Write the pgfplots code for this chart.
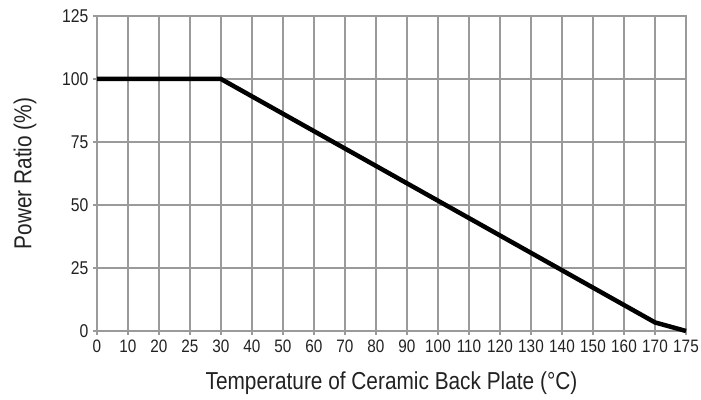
\documentclass[border=0pt]{standalone}
\usepackage{fontspec}
\setmainfont{Liberation Sans}[FakeStretch=0.85]
\usepackage{pgfplots}
\pgfplotsset{compat=1.18}
\definecolor{gridgray}{HTML}{9A9A9A}
\definecolor{txt}{HTML}{222222}
\begin{document}
\begin{tikzpicture}
\useasboundingbox (-97bp,-69bp) rectangle (604bp,331bp);
\begin{axis}[
  at={(0,0)}, anchor=south west,
  scale only axis,
  width=589bp, height=315bp,
  xmin=0, xmax=19, ymin=0, ymax=125,
  xtick={0,...,19},
  xticklabels={0,10,20,25,30,40,50,60,70,80,90,100,110,120,130,140,150,160,170,175},
  ytick={0,25,50,75,100,125},
  xtick pos=bottom, ytick pos=left,
  grid=major,
  major grid style={gridgray, line width=1.4bp},
  axis line style={gridgray, line width=1.4bp},
  tick style={gridgray, line width=1.2bp},
  tick align=outside,
  major tick length=4bp,
  /pgf/number format/assume math mode=true,
  yticklabel style={font=\fontsize{18.5bp}{21bp}\selectfont, text=txt, xshift=-1bp},
  xticklabel style={font=\fontsize{18bp}{20bp}\selectfont, text=txt, yshift=-1.5bp},
  label style={font=\fontsize{24.5bp}{28bp}\selectfont, text=txt},
  xlabel={Temperature of Ceramic Back Plate (°C)},
  ylabel={Power Ratio (\%)},
  xlabel style={at={(axis description cs:0.5,-0.165)}, anchor=center},
  ylabel style={at={(axis description cs:-0.122,0.5)}, anchor=center},
  clip=false,
]
\addplot[black, line width=4.5bp, line join=round] coordinates {
 (0,100) (1,100) (2,100) (3,100) (4,100)
 (5,93.1) (6,86.2) (7,79.3) (8,72.4) (9,65.5) (10,58.6) (11,51.7)
 (12,44.8) (13,37.9) (14,31.0) (15,24.1) (16,17.2) (17,10.3) (18,3.4) (19,0)
};
\end{axis}
\end{tikzpicture}
\end{document}
